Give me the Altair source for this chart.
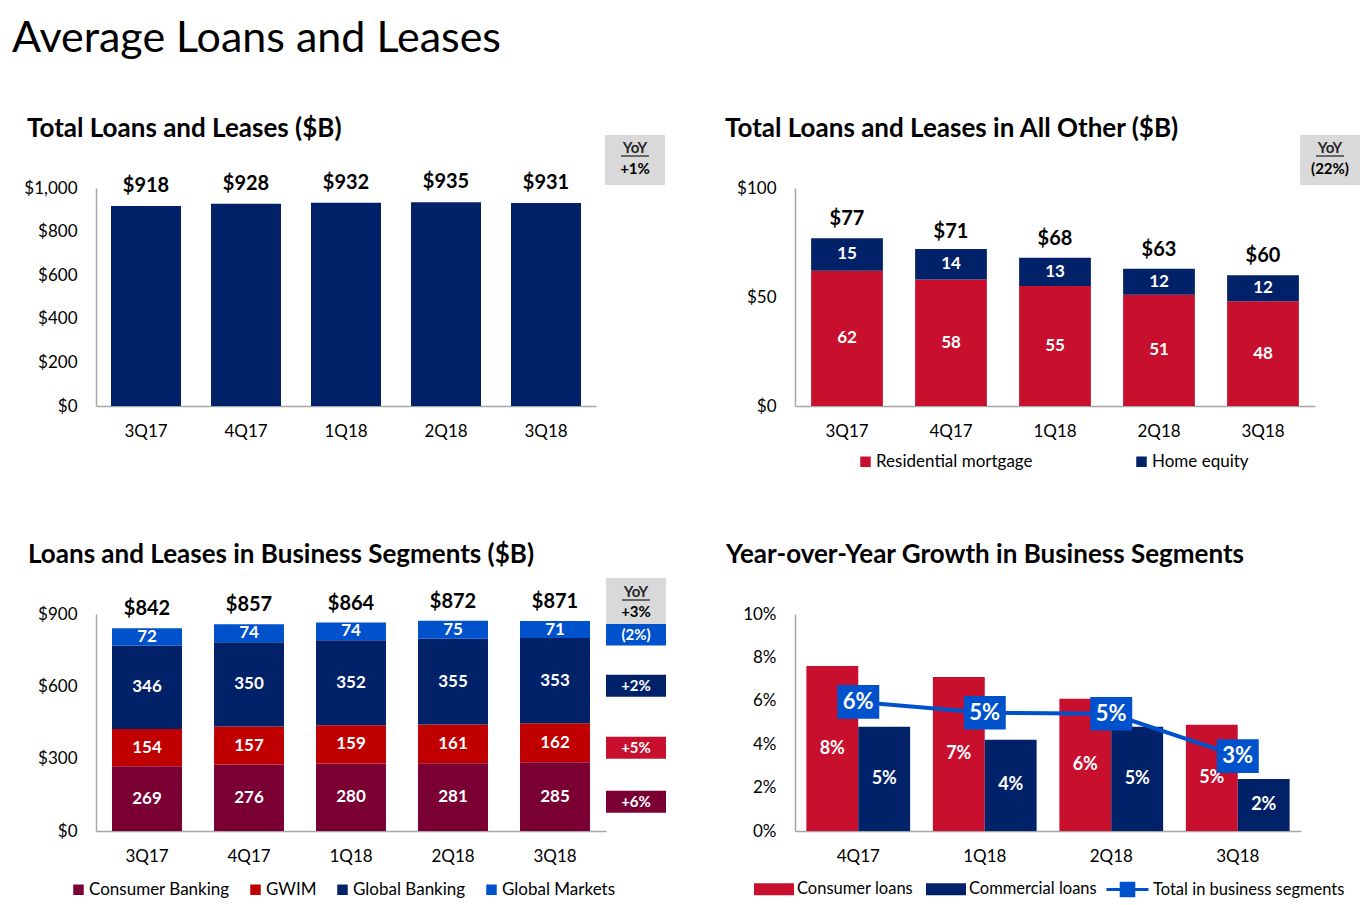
import altair as alt
import pandas as pd

FONT = "Lato"
NAVY = "#012169"
RED = "#C8102E"
GWIM_RED = "#C00000"
MAROON = "#7A0034"
BLUE = "#0052CC"
GRAY_BOX = "#D9D9D9"
AXIS_GRAY = "#A6A6A6"

# ---------------- data ----------------
main_title = "Average Loans and Leases"

quarters = ["3Q17", "4Q17", "1Q18", "2Q18", "3Q18"]

tl_title = "Total Loans and Leases ($B)"
total_loans = [918, 928, 932, 935, 931]
total_yoy = "+1%"

tr_title = "Total Loans and Leases in All Other ($B)"
other_series = ["Residential mortgage", "Home equity"]
residential_mortgage = [62, 58, 55, 51, 48]
home_equity = [15, 14, 13, 12, 12]
other_totals = [77, 71, 68, 63, 60]
other_yoy = "(22%)"

bl_title = "Loans and Leases in Business Segments ($B)"
segment_series = ["Consumer Banking", "GWIM", "Global Banking", "Global Markets"]
consumer_banking = [269, 276, 280, 281, 285]
gwim = [154, 157, 159, 161, 162]
global_banking = [346, 350, 352, 355, 353]
global_markets = [72, 74, 74, 75, 71]
segment_totals = [842, 857, 864, 872, 871]
segment_yoy_total = "+3%"
segment_yoy = ["+6%", "+5%", "+2%", "(2%)"]
segment_colors = [MAROON, GWIM_RED, NAVY, BLUE]
segment_yoy_colors = [MAROON, RED, NAVY, BLUE]

br_title = "Year-over-Year Growth in Business Segments"
growth_quarters = ["4Q17", "1Q18", "2Q18", "3Q18"]
growth_series = ["Consumer loans", "Commercial loans"]
consumer_growth = [7.6, 7.1, 6.1, 4.9]
commercial_growth = [4.8, 4.2, 4.8, 2.4]
consumer_growth_labels = ["8%", "7%", "6%", "5%"]
commercial_growth_labels = ["5%", "4%", "5%", "2%"]
total_series = "Total in business segments"
total_growth = [5.95, 5.45, 5.4, 3.45]
total_growth_labels = ["6%", "5%", "5%", "3%"]


# ---------------- helpers ----------------
def x_axis():
    return alt.Axis(title=None, ticks=False, tickSize=0, labelAngle=0, labelFont=FONT,
                    labelFontSize=17, labelPadding=17, labelColor="black",
                    domainColor=AXIS_GRAY, domainWidth=1.5, grid=False)


def y_axis(values, fmt=None, expr=None):
    kw = dict(values=values, title=None, ticks=False, tickSize=0, grid=False,
              domainColor=AXIS_GRAY, domainWidth=1.5, labelFont=FONT, labelFontSize=17,
              labelPadding=19, labelColor="black", labelFlush=False)
    if fmt:
        kw["format"] = fmt
    if expr:
        kw["labelExpr"] = expr
    return alt.Axis(**kw)


def text_at(text, x, y, size, weight="bold", color="black", align="left"):
    return alt.Chart(pd.DataFrame({"t": [text]})).mark_text(
        font=FONT, fontSize=size, fontWeight=weight, color=color, align=align,
        baseline="alphabetic").encode(x=alt.value(x), y=alt.value(y), text="t:N")


def yoy_header(x0, x1, y0, y1, value, yoy_base, line_y, val_base):
    cx = (x0 + x1) / 2
    one = pd.DataFrame({"a": [0]})
    box = alt.Chart(one).mark_rect(color=GRAY_BOX).encode(
        x=alt.value(x0), x2=alt.value(x1), y=alt.value(y0), y2=alt.value(y1))
    under = alt.Chart(one).mark_rule(color="#404040", strokeWidth=1.5).encode(
        x=alt.value(cx - 14), x2=alt.value(cx + 14), y=alt.value(line_y))
    return [box, under,
            text_at("YoY", cx, yoy_base, 15, align="center", color="#262626"),
            text_at(value, cx, val_base, 15, align="center")]


def square_legend(x, y, pad):
    return alt.Legend(orient="none", legendX=x, legendY=y, direction="horizontal",
                      title=None, symbolType="square", symbolSize=110, symbolStrokeWidth=0,
                      labelFont=FONT, labelFontSize=17, labelColor="black", labelOffset=2,
                      columnPadding=pad, padding=0, labelLimit=300)


# ---------------- top-left ----------------
tl_df = pd.DataFrame({"quarter": quarters, "value": total_loans})
tl_df["label"] = ["$" + str(v) for v in total_loans]
tl_x = alt.X("quarter:N", sort=quarters,
             scale=alt.Scale(paddingInner=0.3, paddingOuter=0.15), axis=x_axis())
tl_y = alt.Y("value:Q", scale=alt.Scale(domain=[0, 1000], nice=False),
             axis=y_axis([0, 200, 400, 600, 800, 1000], "$,.0f"))
tl_bars = alt.Chart(tl_df).mark_bar(color=NAVY).encode(x=tl_x, y=tl_y)
tl_vals = alt.Chart(tl_df).mark_text(font=FONT, fontSize=20, fontWeight="bold",
                                     baseline="alphabetic", dy=-14).encode(
    x=alt.X("quarter:N", sort=quarters), y="value:Q", text="label:N")
tl = alt.layer(
    tl_bars, tl_vals,
    text_at(main_title, -84, -136, 43, weight="normal"),
    text_at(tl_title, -69, -51, 26),
    *yoy_header(509, 569, -53, -3, total_yoy, -35, -32, -14),
).properties(width=500, height=218)

# ---------------- top-right ----------------
rows = []
for i, q in enumerate(quarters):
    base = 0
    for s, vals in zip(other_series, [residential_mortgage, home_equity]):
        v = vals[i]
        rows.append({"quarter": q, "series": s, "value": v, "y0": base, "y1": base + v,
                     "mid": base + v / 2})
        base += v
tr_df = pd.DataFrame(rows)
tr_tot = pd.DataFrame({"quarter": quarters, "total": other_totals,
                       "label": ["$" + str(v) for v in other_totals]})
tr_x = alt.X("quarter:N", sort=quarters,
             scale=alt.Scale(paddingInner=0.31, paddingOuter=0.155), axis=x_axis())
tr_y = alt.Y("y0:Q", scale=alt.Scale(domain=[0, 100], nice=False),
             axis=y_axis([0, 50, 100], "$.0f"))
tr_bars = alt.Chart(tr_df).mark_bar().encode(
    x=tr_x, y=tr_y, y2="y1:Q",
    color=alt.Color("series:N", scale=alt.Scale(domain=other_series, range=[RED, NAVY]),
                    legend=square_legend(62, 265, 100)))
tr_lab = alt.Chart(tr_df).mark_text(font=FONT, fontSize=17, fontWeight="bold",
                                    color="white", baseline="middle").encode(
    x=alt.X("quarter:N", sort=quarters), y="mid:Q", text="value:Q")
tr_tot_txt = alt.Chart(tr_tot).mark_text(font=FONT, fontSize=20, fontWeight="bold",
                                         baseline="alphabetic", dy=-13).encode(
    x=alt.X("quarter:N", sort=quarters), y="total:Q", text="label:N")
tr = alt.layer(
    tr_bars, tr_lab, tr_tot_txt,
    text_at(tr_title, -70, -51, 26),
    *yoy_header(505, 565, -53, -3, other_yoy, -35, -32, -14),
).properties(width=520, height=218)

# ---------------- bottom-left ----------------
rows = []
seg_vals = [consumer_banking, gwim, global_banking, global_markets]
for i, q in enumerate(quarters):
    base = 0
    for s, vals in zip(segment_series, seg_vals):
        v = vals[i]
        rows.append({"quarter": q, "series": s, "value": v, "y0": base, "y1": base + v,
                     "mid": base + v / 2})
        base += v
bl_df = pd.DataFrame(rows)
bl_tot = pd.DataFrame({"quarter": quarters, "total": segment_totals,
                       "label": ["$" + str(v) for v in segment_totals]})
last = bl_df[bl_df["quarter"] == quarters[-1]].copy()
last["yoy"] = segment_yoy
last["box"] = segment_yoy_colors

bl_x = alt.X("quarter:N", sort=quarters,
             scale=alt.Scale(paddingInner=0.314, paddingOuter=0.157), axis=x_axis())
bl_y = alt.Y("y0:Q", scale=alt.Scale(domain=[0, 900], nice=False),
             axis=y_axis([0, 300, 600, 900], "$.0f"))
bl_bars = alt.Chart(bl_df).mark_bar().encode(
    x=bl_x, y=bl_y, y2="y1:Q",
    color=alt.Color("series:N", scale=alt.Scale(domain=segment_series, range=segment_colors),
                    legend=square_legend(-26, 267, 17)))
bl_lab = alt.Chart(bl_df).mark_text(font=FONT, fontSize=17, fontWeight="bold",
                                    color="white", baseline="middle").encode(
    x=alt.X("quarter:N", sort=quarters), y="mid:Q", text="value:Q")
bl_tot_txt = alt.Chart(bl_tot).mark_text(font=FONT, fontSize=20, fontWeight="bold",
                                         baseline="alphabetic", dy=-13).encode(
    x=alt.X("quarter:N", sort=quarters), y="total:Q", text="label:N")
bl_boxes = alt.Chart(last).mark_rect(yOffset=-6, y2Offset=16).encode(
    x=alt.value(510), x2=alt.value(570), y="mid:Q", y2="mid:Q",
    fill=alt.Fill("box:N", scale=None))
bl_box_txt = alt.Chart(last).mark_text(font=FONT, fontSize=15, fontWeight="bold",
                                       color="white", baseline="middle", dy=5).encode(
    x=alt.value(540), y="mid:Q", text="yoy:N")
bl = alt.layer(
    bl_bars, bl_lab, bl_tot_txt, bl_boxes, bl_box_txt,
    text_at(bl_title, -68, -51, 26),
    *yoy_header(510, 570, -36, 10, segment_yoy_total, -17, -14, 3),
).properties(width=510, height=217)

# ---------------- bottom-right ----------------
rows = []
for i, q in enumerate(growth_quarters):
    rows.append({"quarter": q, "series": growth_series[0], "value": consumer_growth[i],
                 "mid": consumer_growth[i] / 2, "label": consumer_growth_labels[i]})
    rows.append({"quarter": q, "series": growth_series[1], "value": commercial_growth[i],
                 "mid": commercial_growth[i] / 2, "label": commercial_growth_labels[i]})
br_df = pd.DataFrame(rows)
br_line = pd.DataFrame({"quarter": growth_quarters, "value": total_growth,
                        "label": total_growth_labels, "series": [total_series] * 4})

br_x = alt.X("quarter:N", sort=growth_quarters,
             scale=alt.Scale(paddingInner=0.18, paddingOuter=0.09), axis=x_axis())
br_y = alt.Y("value:Q", scale=alt.Scale(domain=[0, 10], nice=False),
             axis=y_axis([0, 2, 4, 6, 8, 10], expr="datum.value + '%'"))
br_bars = alt.Chart(br_df).mark_bar().encode(
    x=br_x, y=br_y,
    xOffset=alt.XOffset("series:N", sort=growth_series,
                        scale=alt.Scale(paddingInner=0, paddingOuter=0)),
    color=alt.Color("series:N",
                    scale=alt.Scale(domain=growth_series, range=[RED, NAVY]),
                    legend=alt.Legend(orient="none", legendX=-41, legendY=255,
                                      direction="horizontal", title=None,
                                      symbolType="M-1,-0.3L1,-0.3L1,0.3L-1,0.3Z",
                                      symbolSize=1600, symbolStrokeWidth=0, labelFont=FONT,
                                      labelFontSize=16.5, labelColor="black", labelOffset=3,
                                      columnPadding=12, padding=0, labelLimit=300)))
br_lab_c = alt.Chart(br_df[br_df["series"] == growth_series[0]]).mark_text(
    font=FONT, fontSize=18, fontWeight="bold", color="white", baseline="middle", dx=-26
).encode(x=alt.X("quarter:N", sort=growth_quarters), y="mid:Q", text="label:N")
br_lab_m = alt.Chart(br_df[br_df["series"] == growth_series[1]]).mark_text(
    font=FONT, fontSize=18, fontWeight="bold", color="white", baseline="middle", dx=26
).encode(x=alt.X("quarter:N", sort=growth_quarters), y="mid:Q", text="label:N")
br_ln = alt.Chart(br_line).mark_line(strokeWidth=4).encode(
    x=alt.X("quarter:N", sort=growth_quarters), y="value:Q",
    stroke=alt.Stroke("series:N", scale=alt.Scale(domain=[total_series], range=[BLUE]),
                      legend=alt.Legend(orient="none", legendX=310, legendY=253,
                                        direction="horizontal", title=None,
                                        symbolType="M-1,0L1,0M-0.3,-0.3L0.3,-0.3L0.3,0.3L-0.3,0.3Z",
                                        symbolSize=1764, symbolStrokeWidth=3,
                                        symbolFillColor=BLUE, labelFont=FONT,
                                        labelFontSize=16.5, labelColor="black", labelOffset=3,
                                        padding=0, labelLimit=300)))
br_pts = alt.Chart(br_line).mark_point(
    shape="M-1,-0.8L1,-0.8L1,0.8L-1,0.8Z", size=1764, filled=True, opacity=1, color=BLUE
).encode(x=alt.X("quarter:N", sort=growth_quarters), y="value:Q")
br_pt_txt = alt.Chart(br_line).mark_text(
    font=FONT, fontSize=22, fontWeight="bold", color="white", baseline="middle"
).encode(x=alt.X("quarter:N", sort=growth_quarters), y="value:Q", text="label:N")
br = alt.layer(
    br_bars, br_lab_c, br_lab_m, br_ln, br_pts, br_pt_txt,
    text_at(br_title, -69, -51, 26),
).properties(width=506, height=217)

chart = alt.concat(
    tl, tr, bl, br, columns=2, spacing={"row": 208, "column": 189},
    bounds="flush", align="each"
).resolve_scale(
    color="independent", stroke="independent", fill="independent"
).properties(
    padding={"left": 4, "top": 10, "right": 0, "bottom": 0}
).configure(font=FONT).configure_view(strokeWidth=0, stroke="transparent")

chart.save("out.html", embed_options={"renderer": "svg", "actions": False})
